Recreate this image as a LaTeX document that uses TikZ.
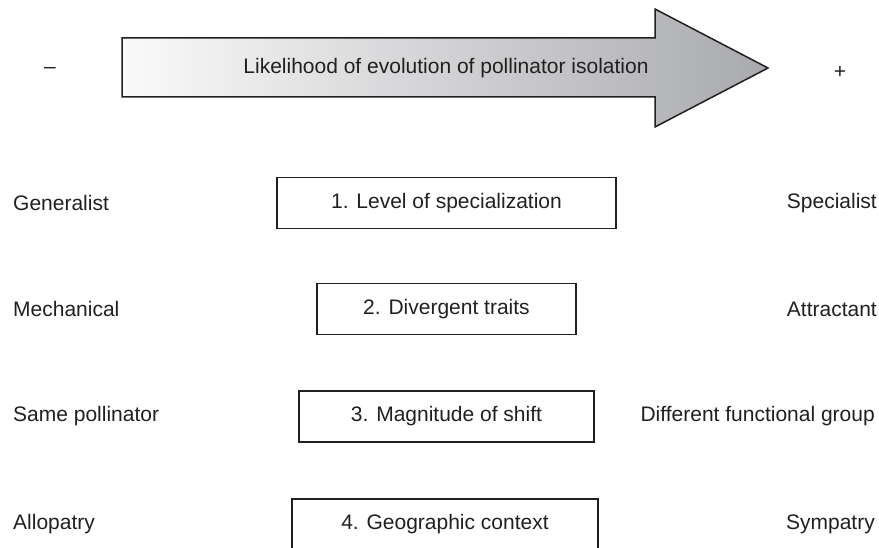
\documentclass[tikz,border=0pt]{standalone}
\usepackage{fontspec}
\setmainfont{Liberation Sans}
\definecolor{ink}{HTML}{231F20}
\definecolor{arrowL}{HTML}{FAFAFA}
\definecolor{arrowR}{HTML}{A9AAAE}
\begin{document}
\begin{tikzpicture}[x=1pt,y=-1pt,
  every node/.style={font=\fontsize{21}{25}\selectfont, text=ink, inner sep=0pt},
  factor/.style={draw=ink, line width=1.6pt, minimum height=51pt, anchor=center},
  lefttxt/.style={anchor=west},
  righttxt/.style={anchor=east}]
\useasboundingbox (0,0) rectangle (879,548);
% big arrow
\shade[left color=arrowL, right color=arrowR, draw=ink, line width=1.5pt, line join=miter]
  (122,38) -- (655,38) -- (655,9) -- (768,68) -- (655,127) -- (655,97) -- (122,97) -- cycle;
\node (title) at (446,68) {Likelihood of evolution of pollinator isolation};
\node (minus) at (50,70) {–};
\node (plus) at (840,72) {+};
% rows
\node[factor, minimum width=339pt] (f1) at (446.5,203) {1. Level of specialization};
\node[factor, minimum width=259pt] (f2) at (446.5,309) {2. Divergent traits};
\node[factor, minimum width=295pt] (f3) at (446.5,416.5) {3. Magnitude of shift};
\node[factor, minimum width=306pt] (f4) at (445,524.5) {4. Geographic context};
\node[lefttxt] (l1) at (13,203) {Generalist};
\node[lefttxt] (l2) at (13,309) {Mechanical};
\node[lefttxt] (l3) at (13,416) {Same pollinator};
\node[lefttxt] (l4) at (13,524) {Allopatry};
\node[righttxt] (r1) at (877,203) {Specialist};
\node[righttxt] (r2) at (877,309) {Attractant};
\node[righttxt] (r3) at (875,416) {Different functional group};
\node[righttxt] (r4) at (875,524) {Sympatry};
\end{tikzpicture}
\end{document}
